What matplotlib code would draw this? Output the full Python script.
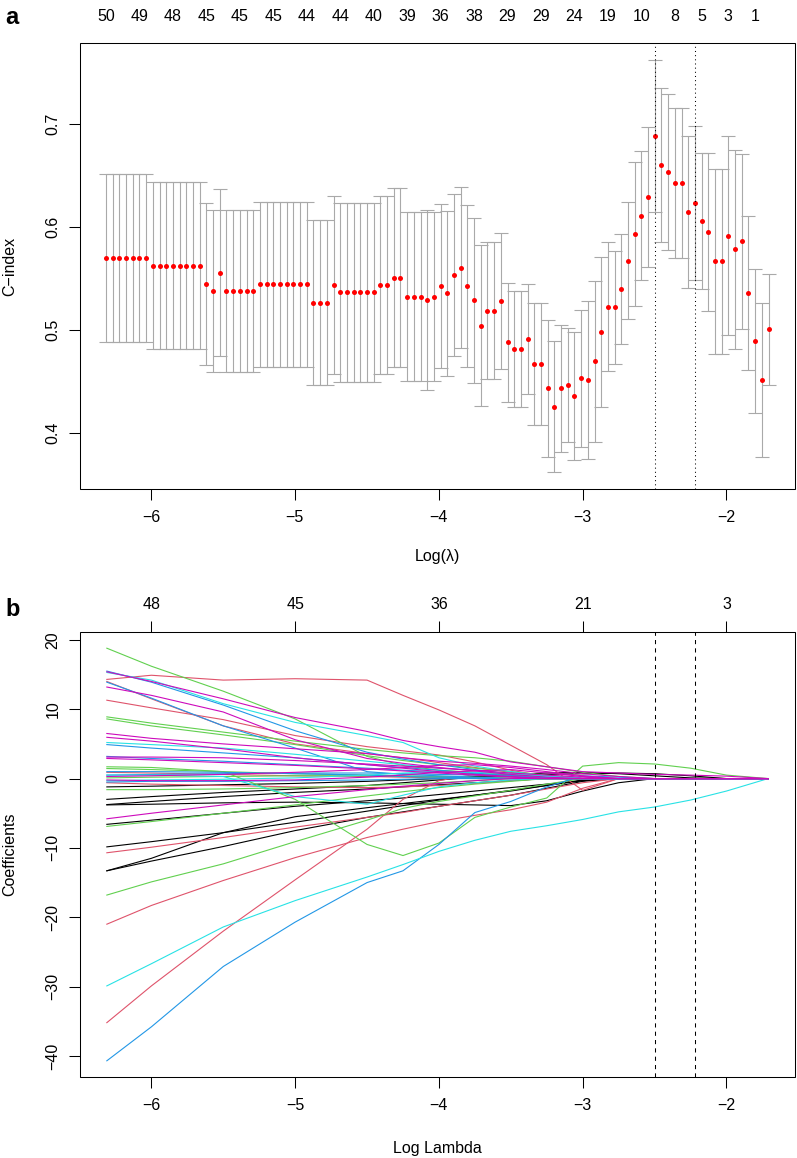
"""
Figura de dos paneles: validacion cruzada (C-index) y trayectorias
de coeficientes del modelo LASSO-Cox.
"""

import numpy as np
import matplotlib
matplotlib.use("Agg")
import matplotlib.pyplot as plt
from matplotlib.patches import Rectangle

plt.rcParams['font.family'] = ['Liberation Sans', 'DejaVu Sans']

# ---------------- Panel a: C-index por lambda ----------------
LOG_LAMBDA_MIN = -6.3125
N_LAMBDA = 100

c_index = [
    0.570, 0.570, 0.570, 0.570, 0.570, 0.570, 0.570,
    0.5625, 0.5625, 0.5625, 0.5625, 0.5625, 0.5625, 0.5625, 0.5625,
    0.5447, 0.538, 0.5557, 0.538, 0.538, 0.538, 0.538, 0.538,
    0.5443, 0.5443, 0.5443, 0.5443, 0.5443, 0.5443, 0.5443, 0.5443,
    0.5265, 0.5265, 0.5265, 0.5434,
    0.5366, 0.5366, 0.5366, 0.5366, 0.5366, 0.5366,
    0.5437, 0.5437, 0.5505, 0.5505, 0.5323, 0.5323, 0.5323,
    0.5288, 0.5323, 0.5427, 0.5356, 0.5534, 0.5605, 0.5427, 0.5288,
    0.5041, 0.5187, 0.5187, 0.5284, 0.4879, 0.4814, 0.4814, 0.4914,
    0.4668, 0.4668, 0.4432, 0.4254, 0.4432, 0.4464, 0.4357, 0.4529,
    0.4516, 0.4694, 0.4977, 0.5226, 0.5220, 0.5398, 0.5673, 0.5930,
    0.6111, 0.6290, 0.6886, 0.6604, 0.6533, 0.6429, 0.6429, 0.6144,
    0.6237, 0.6059, 0.5952, 0.5667, 0.5667, 0.5916, 0.5784, 0.5862,
    0.5356, 0.4895, 0.4513, 0.5006,
]

c_index_sd = [
    0.082, 0.082, 0.082, 0.082, 0.082, 0.082, 0.082,
    0.081, 0.081, 0.081, 0.081, 0.081, 0.081, 0.081, 0.081,
    0.079, 0.079, 0.081, 0.079, 0.079, 0.079, 0.079, 0.079,
    0.080, 0.080, 0.080, 0.080, 0.080, 0.080, 0.080, 0.080,
    0.0805, 0.0805, 0.0805, 0.0866,
    0.087, 0.087, 0.087, 0.087, 0.087, 0.087,
    0.0866, 0.0866, 0.087, 0.087, 0.082, 0.082, 0.082,
    0.0875, 0.082, 0.0795, 0.080, 0.079, 0.078, 0.079, 0.080,
    0.078, 0.0665, 0.0665, 0.066, 0.058, 0.0564, 0.0564, 0.0533,
    0.0597, 0.0597, 0.0664, 0.064, 0.062, 0.055, 0.0626, 0.0664,
    0.0768, 0.078, 0.073, 0.0626, 0.0547, 0.0538, 0.057, 0.070,
    0.063, 0.068, 0.074, 0.075, 0.076, 0.073, 0.073, 0.074,
    0.075, 0.066, 0.077, 0.090, 0.090, 0.097, 0.097, 0.085,
    0.075, 0.070, 0.075, 0.054,
]

idx_lambda_min = 82
idx_lambda_1se = 88

# numero de variables no nulas (eje superior)
nz_idx = [0, 5, 10, 15, 20, 25, 30, 35, 40, 45, 50, 55, 60, 65, 70, 75,
          80, 85, 89, 93, 97]
nz_labels = ['50', '49', '48', '45', '45', '45', '44', '44', '40', '39',
             '36', '38', '29', '29', '24', '19', '10', '8', '5', '3', '1']

# ---------------- Panel b: trayectorias de coeficientes ----------------
knots = [-6.31, -6.0, -5.5, -5.0, -4.5, -4.25, -4.0, -3.75, -3.5, -3.25,
         -3.0, -2.75, -2.5, -2.25, -2.0, -1.71]

coef_black = [
    [-3.0, -2.6, -2.0, -1.5, -1.0, -0.6, -0.2, 0.2, 0.4, 0.6, 0.7, 0.8, 0.7, 0.4, 0.0, 0.0],
    [-3.8, -3.7, -3.5, -3.4, -3.5, -3.6, -3.7, -3.8, -3.9, -3.2, -1.8, -0.6, 0.0, 0.0, 0.0, 0.0],
    [-3.75, -3.3, -2.6, -2.0, -1.5, -1.2, -0.9, -0.6, -0.3, 0.0, 0.0, 0.0, 0.0, 0.0, 0.0, 0.0],
    [-6.6, -6.0, -5.0, -4.0, -3.2, -2.8, -2.3, -1.8, -1.3, -0.8, -0.3, 0.0, 0.0, 0.0, 0.0, 0.0],
    [-9.85, -9.1, -7.8, -6.3, -4.7, -3.9, -3.1, -2.4, -1.7, -1.0, -0.3, 0.0, 0.0, 0.0, 0.0, 0.0],
    [-13.3, -11.5, -7.8, -5.5, -4.2, -3.6, -3.0, -2.4, -1.8, -1.0, -0.2, 0.0, 0.0, 0.0, 0.0, 0.0],
    [-13.3, -11.9, -9.8, -7.5, -5.6, -4.8, -4.0, -3.2, -2.4, -1.4, -0.4, 0.0, 0.0, 0.0, 0.0, 0.0],
    [-1.2, -1.1, -0.9, -0.7, -0.4, -0.2, 0.0, 0.3, 0.6, 0.8, 0.9, 0.7, 0.4, 0.1, 0.0, 0.0],
]

coef_red = [
    [14.3, 14.9, 14.2, 14.4, 14.2, 12.0, 9.9, 7.6, 4.8, 2.0, -1.7, 0.0, 0.0, 0.0, 0.0, 0.0],
    [11.3, 10.2, 8.5, 6.2, 4.6, 4.0, 3.4, 2.4, 1.2, 0.3, 0.0, 0.0, 0.0, 0.0, 0.0, 0.0],
    [14.0, 11.5, 7.6, 5.0, 3.6, 3.0, 2.3, 1.6, 0.9, 0.3, 0.0, 0.0, 0.0, 0.0, 0.0, 0.0],
    [-21.0, -18.3, -14.7, -11.4, -8.5, -7.3, -6.2, -5.3, -4.5, -3.4, -1.4, 0.0, 0.0, 0.0, 0.0, 0.0],
    [-35.2, -29.9, -22.0, -14.6, -7.3, -3.0, -0.3, 0.6, 0.5, 0.2, 0.0, 0.0, 0.0, 0.0, 0.0, 0.0],
    [-10.7, -9.9, -8.5, -7.0, -5.6, -4.9, -4.0, -3.2, -2.4, -1.5, -0.6, 0.0, 0.0, 0.0, 0.0, 0.0],
    [0.9, 0.8, 0.6, 0.4, 0.3, 0.2, 0.1, 0.0, 0.0, 0.0, 0.0, 0.0, 0.0, 0.0, 0.0, 0.0],
    [-0.6, -0.8, -1.0, -1.2, -1.3, -1.2, -1.0, -0.7, -0.3, 0.0, 0.0, 0.0, 0.0, 0.0, 0.0, 0.0],
]

coef_green = [
    [18.8, 16.2, 12.6, 8.6, 3.2, 1.9, 1.2, 0.9, 0.6, 0.3, 0.0, 0.0, 0.0, 0.0, 0.0, 0.0],
    [8.9, 8.0, 6.7, 5.4, 4.2, 3.7, 3.3, 3.0, 2.5, 1.7, 0.9, 0.3, 0.0, 0.0, 0.0, 0.0],
    [8.6, 7.6, 6.3, 4.9, 3.3, 2.6, 2.0, 1.5, 1.0, 0.5, 0.0, 0.0, 0.0, 0.0, 0.0, 0.0],
    [1.7, 1.6, 1.0, -3.0, -9.5, -11.1, -9.3, -5.6, -4.1, -2.8, 1.8, 2.3, 2.1, 1.5, 0.5, 0.0],
    [1.45, 1.3, 1.0, 0.7, 0.5, 0.4, 0.3, 0.2, 0.1, 0.0, 0.0, 0.0, 0.0, 0.0, 0.0, 0.0],
    [-1.6, -1.6, -1.5, -1.3, -1.0, -0.8, -0.6, -0.3, 0.0, 0.0, 0.0, 0.0, 0.0, 0.0, 0.0, 0.0],
    [-6.9, -6.2, -5.0, -3.8, -2.5, -1.9, -1.3, -0.8, -0.4, 0.0, 0.0, 0.0, 0.0, 0.0, 0.0, 0.0],
    [-16.8, -14.9, -12.3, -9.1, -6.0, -4.3, -3.3, -2.5, -1.7, -0.8, 0.0, 0.0, 0.0, 0.0, 0.0, 0.0],
    [0.1, 0.2, 0.3, 0.4, 0.4, 0.3, 0.2, 0.1, 0.0, 0.0, 0.0, 0.0, 0.0, 0.0, 0.0, 0.0],
]

coef_blue = [
    [-40.7, -35.8, -27.1, -20.7, -15.0, -13.3, -9.5, -4.9, -3.3, -1.2, 0.4, 0.2, 0.0, 0.0, 0.0, 0.0],
    [13.9, 11.6, 7.6, 4.4, 1.0, 0.6, 0.4, 0.2, 0.0, 0.0, 0.0, 0.0, 0.0, 0.0, 0.0, 0.0],
    [4.9, 4.4, 3.7, 3.0, 2.0, 1.6, 1.2, 0.8, 0.4, 0.0, 0.0, 0.0, 0.0, 0.0, 0.0, 0.0],
    [15.5, 13.9, 10.6, 6.9, 3.8, 2.8, 2.0, 1.3, 0.6, 0.2, 0.0, 0.0, 0.0, 0.0, 0.0, 0.0],
    [0.5, 0.6, 0.7, 0.8, 0.8, 0.7, 0.6, 0.5, 0.3, 0.1, 0.0, 0.0, 0.0, 0.0, 0.0, 0.0],
    [-0.5, -0.4, -0.4, -0.3, -0.2, -0.1, 0.0, 0.0, 0.0, 0.0, 0.0, 0.0, 0.0, 0.0, 0.0, 0.0],
    [3.2, 2.9, 2.5, 2.0, 1.5, 1.2, 1.0, 0.7, 0.4, 0.1, 0.0, 0.0, 0.0, 0.0, 0.0, 0.0],
    [1.0, 1.0, 0.9, 0.7, 0.5, 0.3, 0.2, 0.1, 0.0, 0.0, 0.0, 0.0, 0.0, 0.0, 0.0, 0.0],
]

coef_cyan = [
    [-29.9, -26.7, -21.4, -17.6, -14.2, -12.4, -10.5, -8.9, -7.6, -6.8, -5.9, -4.8, -4.1, -3.1, -1.8, 0.0],
    [15.3, 14.2, 10.8, 8.1, 6.2, 5.2, 3.0, 1.8, 1.0, 0.4, 0.0, 0.0, 0.0, 0.0, 0.0, 0.0],
    [0.5, 0.5, 0.3, -2.6, -3.7, -2.4, -1.2, -0.6, -0.2, 0.0, 0.0, 0.0, 0.0, 0.0, 0.0, 0.0],
    [-0.3, -0.2, -0.1, 0.1, 0.5, 0.8, 1.0, 0.9, 0.7, 0.4, 0.0, 0.0, 0.0, 0.0, 0.0, 0.0],
    [5.2, 4.9, 4.4, 3.5, 2.5, 2.0, 1.5, 1.2, 0.7, 0.3, 0.0, 0.0, 0.0, 0.0, 0.0, 0.0],
]

coef_magenta = [
    [15.4, 14.0, 11.5, 8.8, 6.8, 5.5, 4.6, 3.8, 2.4, 1.7, 1.0, 0.8, 0.6, 0.5, 0.35, 0.0],
    [13.2, 12.0, 9.6, 5.6, 2.9, 2.2, 1.6, 1.1, 0.6, 0.2, 0.0, 0.0, 0.0, 0.0, 0.0, 0.0],
    [6.5, 5.8, 5.0, 4.3, 3.6, 3.0, 2.5, 2.2, 1.8, 1.3, 0.7, 0.3, 0.0, 0.0, 0.0, 0.0],
    [5.95, 5.4, 4.3, 3.0, 2.0, 1.5, 1.0, 0.6, 0.3, 0.0, 0.0, 0.0, 0.0, 0.0, 0.0, 0.0],
    [3.1, 3.1, 3.0, 2.6, 2.1, 1.8, 1.5, 1.2, 0.8, 0.5, 0.2, 0.0, 0.0, 0.0, 0.0, 0.0],
    [2.9, 2.7, 2.3, 1.9, 1.4, 1.1, 0.8, 0.5, 0.2, 0.0, 0.0, 0.0, 0.0, 0.0, 0.0, 0.0],
    [-5.8, -5.0, -3.8, -2.6, -1.6, -1.1, -0.7, -0.3, 0.0, 0.0, 0.0, 0.0, 0.0, 0.0, 0.0, 0.0],
    [0.3, 0.4, 0.6, 0.9, 1.3, 1.6, 1.9, 2.0, 1.6, 1.0, 0.4, 0.0, 0.0, 0.0, 0.0, 0.0],
    [-0.2, -0.3, -0.3, -0.2, 0.2, 0.5, 0.9, 1.1, 1.3, 0.8, 0.3, 0.0, 0.0, 0.0, 0.0, 0.0],
]

b_top_ticks = [-6, -5, -4, -3, -2]
b_top_labels = ['48', '45', '36', '21', '3']

# colores de la paleta por defecto de R 4
COLORES = {
    'black': '#000000', 'red': '#DF536B', 'green': '#61D04F',
    'blue': '#2297E6', 'cyan': '#28E2E5', 'magenta': '#CD0BBC',
}

W, H = 797, 1158
FS = 11.5


def rango_r(lo, hi):
    """Rango con extension del 4% como hace R"""
    d = (hi - lo) * 0.04
    return lo - d, hi + d


def estilo_ejes(ax):
    for s in ax.spines.values():
        s.set_visible(False)
    # marco completo dibujado a mano (como box() en R)
    ax.add_patch(Rectangle((0, 0), 1, 1, transform=ax.transAxes, fill=False,
                           edgecolor='black', lw=0.75, clip_on=False, zorder=6))
    ax.tick_params(direction='out', length=8, width=0.75, labelsize=FS,
                   color='black')
    ax.tick_params(axis='x', pad=7)
    ax.tick_params(axis='y', pad=6, labelrotation=90)
    for lab in ax.get_yticklabels():
        lab.set_va('center')


def eje_superior(ax, posiciones, etiquetas, largo, pad):
    sec = ax.secondary_xaxis('top')
    sec.set_xticks(posiciones, labels=etiquetas)
    sec.tick_params(direction='out', length=largo, width=0.75, pad=pad,
                    labelsize=FS, color='black')
    sec.spines['top'].set_visible(False)
    return sec


def panel_cindex(fig, log_lambda):
    ax = fig.add_axes([79.5 / W, 1 - 489 / H, (795 - 79.5) / W, (489 - 43.3) / H])
    cvm = np.array(c_index)
    sd = np.array(c_index_sd)

    ax.errorbar(log_lambda, cvm, yerr=sd, fmt='none', ecolor='#A9A9A9',
                elinewidth=0.8, capsize=4.8, capthick=0.8, zorder=1)
    ax.plot(log_lambda, cvm, 'o', color='red', ms=3.6, mew=0, zorder=2)

    for i in (idx_lambda_min, idx_lambda_1se):
        ax.axvline(log_lambda[i], color='black', lw=0.75, ls=(0, (1, 3)), zorder=3)

    ax.set_xlim(*rango_r(log_lambda.min(), log_lambda.max()))
    ax.set_ylim(*rango_r((cvm - sd).min(), (cvm + sd).max()))
    ax.set_xticks([-6, -5, -4, -3, -2])
    ax.set_yticks([0.4, 0.5, 0.6, 0.7])
    ax.set_yticklabels(['0.4', '0.5', '0.6', '0.7'])
    estilo_ejes(ax)

    eje_superior(ax, log_lambda[nz_idx], nz_labels, 0, 14)

    fig.text(437.6 / W, 1 - 556.7 / H, 'Log(\u03bb)', ha='center', va='center', fontsize=FS)
    fig.text(10 / W, 1 - 266 / H, 'C\u2212index', ha='center', va='center',
             rotation=90, fontsize=FS)
    fig.text(5 / W, 1 - 24 / H, 'a', ha='left', va='baseline', fontsize=17,
             fontweight='bold')


def panel_coeficientes(fig, log_lambda):
    ax = fig.add_axes([80 / W, 1 - 1077.3 / H, (795 - 80) / W, (1077.3 - 631.7) / H])

    grupos = [('black', coef_black), ('red', coef_red), ('green', coef_green),
              ('blue', coef_blue), ('cyan', coef_cyan), ('magenta', coef_magenta)]
    todos = []
    for nombre, caminos in grupos:
        for camino in caminos:
            ax.plot(knots, camino, color=COLORES[nombre], lw=0.8)
            todos.extend(camino)

    for i in (idx_lambda_min, idx_lambda_1se):
        ax.axvline(log_lambda[i], color='black', lw=0.75, ls=(0, (4, 4)))

    ax.set_xlim(*rango_r(log_lambda.min(), log_lambda.max()))
    ax.set_ylim(*rango_r(min(todos), max(todos)))
    ax.set_xticks([-6, -5, -4, -3, -2])
    ax.set_yticks([-40, -30, -20, -10, 0, 10, 20])
    estilo_ejes(ax)

    eje_superior(ax, b_top_ticks, b_top_labels, 8, 6)

    fig.text(437.6 / W, 1 - 1149 / H, 'Log Lambda', ha='center', va='center', fontsize=FS)
    fig.text(10 / W, 1 - 854.5 / H, 'Coefficients', ha='center', va='center',
             rotation=90, fontsize=FS)
    fig.text(5 / W, 1 - 616.5 / H, 'b', ha='left', va='baseline', fontsize=17,
             fontweight='bold')


fig = plt.figure(figsize=(W / 100, H / 100), dpi=100)
log_lambda = LOG_LAMBDA_MIN + np.arange(N_LAMBDA) * np.log(100) / (N_LAMBDA - 1)

panel_cindex(fig, log_lambda)
panel_coeficientes(fig, log_lambda)

fig.savefig('out.png', dpi=100)
